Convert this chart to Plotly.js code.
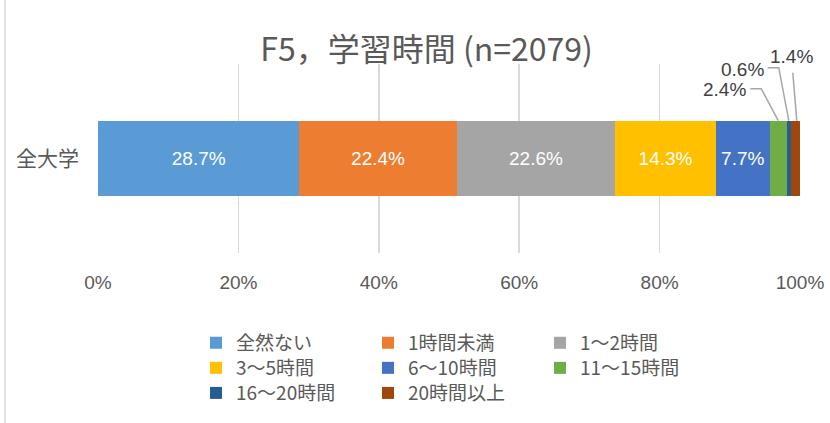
<!DOCTYPE html>
<html>
<head>
<meta charset="utf-8">
<script src="https://cdn.plot.ly/plotly-3.0.1.min.js"></script>
<style>html,body{margin:0;padding:0;background:#fff;}#chart{width:830px;height:423px;}</style>
</head>
<body>
<div id="chart"></div>
<script>
// ---- data ----
const category = ['全大学'];
const seriesNames = ['全然ない', '1時間未満', '1～2時間', '3～5時間', '6～10時間', '11～15時間', '16～20時間', '20時間以上'];
const seriesValues = [28.7, 22.4, 22.6, 14.3, 7.7, 2.4, 0.6, 1.4];
const xTickVals = [0, 20, 40, 60, 80, 100];
const titleText = 'F5，学習時間 (n=2079)';

// ---- styles ----
const colors = ['#5B9BD5', '#ED7D31', '#A5A5A5', '#FFC000', '#4472C4', '#70AD47', '#255E91', '#9E480E'];
const narrow = "'Liberation Sans Narrow', 'Liberation Sans', Arial, sans-serif";
const cjk = "'Noto Sans CJK JP', 'Noto Sans', sans-serif";
const gray = '#595959';
const legendIds = ['legend', 'legend', 'legend', 'legend2', 'legend2', 'legend2', 'legend3', 'legend3'];
const insideLabel = [true, true, true, true, true, false, false, false];

const traces = seriesNames.map((name, i) => ({
  type: 'bar',
  orientation: 'h',
  name: name,
  y: category,
  x: [seriesValues[i]],
  marker: {color: colors[i], line: {width: 0}},
  text: insideLabel[i] ? [seriesValues[i].toFixed(1) + '%'] : [''],
  textposition: insideLabel[i] ? 'inside' : 'none',
  insidetextanchor: 'middle',
  textangle: 0,
  constraintext: 'none',
  textfont: {family: narrow, size: 19, color: '#ffffff'},
  legend: legendIds[i],
  hoverinfo: 'skip'
}));

// segment centres for the callouts of small segments
const cum = [];
let acc = 0;
seriesValues.forEach(v => { cum.push(acc + v / 2); acc += v; });
const barWidth = 0.4;
const barTopPaper = 0.5 + barWidth / 2;

// callout geometry (pixel offsets relative to segment top-centre)
const callouts = [
  {idx: 5, path: 'M0,0 L-17,32 L-28,32', tx: -30, ty: 31, anchor: 'right'},
  {idx: 6, path: 'M0,0 L-10,53 L-21,53', tx: -23, ty: 51, anchor: 'right'},
  {idx: 7, path: 'M1,0 L-3,48', tx: -4, ty: 64, anchor: 'center'}
];

const shapes = callouts.map(c => ({
  type: 'path',
  xref: 'x', yref: 'paper',
  xsizemode: 'pixel', ysizemode: 'pixel',
  xanchor: cum[c.idx], yanchor: barTopPaper,
  path: c.path,
  line: {color: '#a6a6a6', width: 1.5}
}));
// outer chart border (left edge visible)
shapes.push({type: 'line', xref: 'paper', yref: 'paper', x0: -0.1325, x1: -0.1325, y0: -0.9, y1: 1.4,
  line: {color: '#d9d9d9', width: 1.5}});

const annotations = callouts.map(c => ({
  xref: 'x', yref: 'paper',
  x: cum[c.idx], y: barTopPaper,
  xshift: c.tx, yshift: c.ty,
  xanchor: c.anchor, yanchor: 'middle',
  text: seriesValues[c.idx].toFixed(1) + '%',
  showarrow: false,
  font: {family: narrow, size: 19, color: '#404040'}
}));

function legendAt(y) {
  return {
    orientation: 'h', x: 0.1396, xanchor: 'left', y: y, yanchor: 'middle',
    entrywidth: 127, font: {family: cjk, size: 19, color: gray},
    bgcolor: 'rgba(0,0,0,0)', traceorder: 'normal', tracegroupgap: 0
  };
}

const layout = {
  width: 830, height: 423,
  margin: {l: 98, r: 30, t: 64, b: 169},
  paper_bgcolor: '#ffffff', plot_bgcolor: '#ffffff',
  barmode: 'stack',
  bargap: 1 - barWidth,
  title: {text: titleText, font: {family: cjk, size: 32, color: gray},
    x: 0.514, xanchor: 'center', xref: 'container', y: 0.882, yanchor: 'middle', yref: 'container'},
  xaxis: {range: [0, 100], tickvals: xTickVals, ticktext: xTickVals.map(v => v + '%'),
    showgrid: true, gridcolor: '#d9d9d9', gridwidth: 1.5, zeroline: false, showline: false,
    ticks: '', ticklabelstandoff: 16, tickfont: {family: narrow, size: 19, color: gray}, fixedrange: true},
  yaxis: {type: 'category', range: [-0.5, 0.5], showgrid: false, zeroline: false, showline: false,
    ticks: '', ticklabelstandoff: 18, tickfont: {family: cjk, size: 21, color: gray}, fixedrange: true},
  showlegend: true,
  legend: legendAt(-0.468),
  legend2: legendAt(-0.600),
  legend3: legendAt(-0.732),
  shapes: shapes,
  annotations: annotations
};

Plotly.newPlot('chart', traces, layout, {displayModeBar: false, staticPlot: true});
</script>
</body>
</html>
